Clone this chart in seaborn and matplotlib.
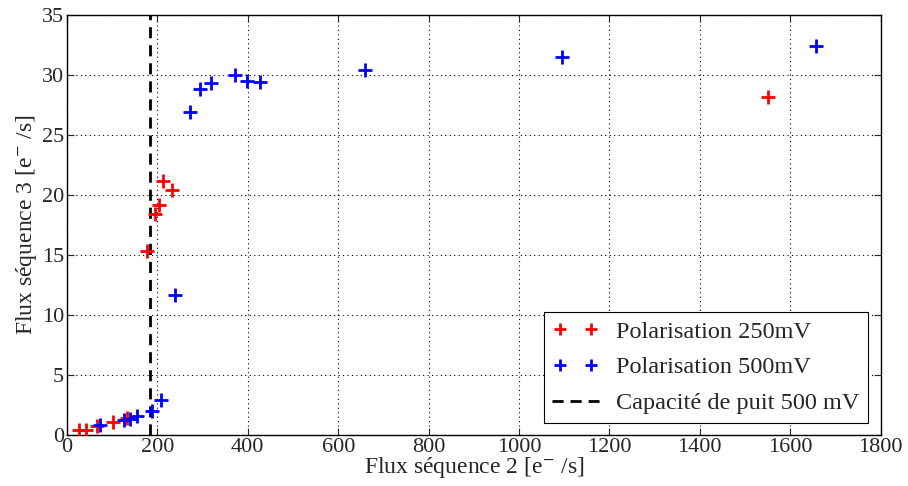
import numpy as np
import pandas as pd
import matplotlib
matplotlib.use("Agg")
import matplotlib.pyplot as plt
import seaborn as sns

# Polarisation 250mV
x_250 = [26, 42, 67, 102, 132, 176, 195, 204, 213, 232, 1552]
y_250 = [0.42, 0.42, 0.72, 1.1, 1.42, 15.35, 18.4, 19.2, 21.2, 20.45, 28.2]

# Polarisation 500mV
x_500 = [73, 125, 139, 154, 188, 209, 239, 272, 295, 318, 371, 398, 426, 659, 1096, 1658]
y_500 = [0.85, 1.28, 1.35, 1.55, 2.02, 2.88, 11.67, 26.9, 28.85, 29.3, 29.97, 29.5, 29.45, 30.4, 31.5, 32.4]

well_capacity = 184

x_ticks = list(range(0, 1801, 200))
y_ticks = list(range(0, 36, 5))

sns.set_theme(style="ticks")
plt.rcParams['font.family'] = ['Liberation Serif', 'DejaVu Serif']
plt.rcParams['mathtext.fontset'] = 'stix'

df_250 = pd.DataFrame({"x": x_250, "y": y_250})
df_500 = pd.DataFrame({"x": x_500, "y": y_500})

fig = plt.figure(figsize=(9.08, 4.86), dpi=100)
ax = fig.add_axes([0.0738, 0.105, 0.896, 0.864])

sns.scatterplot(data=df_250, x="x", y="y", marker="+", color="red", s=110,
                linewidth=2, label="Polarisation 250mV", ax=ax, zorder=3)
sns.scatterplot(data=df_500, x="x", y="y", marker="+", color="blue", s=110,
                linewidth=2, label="Polarisation 500mV", ax=ax, zorder=3)
ax.axvline(well_capacity, color="black", linestyle=(0, (4, 2.5)), linewidth=2,
           label="Capacité de puit 500 mV", zorder=2)

ax.set_xlim(0, 1800)
ax.set_ylim(0, 35)
ax.set_xticks(x_ticks)
ax.set_yticks(y_ticks)
ax.grid(True, color="black", linestyle=(0, (1, 3)), linewidth=0.8)
ax.tick_params(direction="in", top=True, right=True, labelsize=16, length=5,
               width=0.8, pad=2)
for sp in ax.spines.values():
    sp.set_color("black")
    sp.set_linewidth(1.0)

ax.set_xlabel("Flux séquence 2 [e$^{-}$ /s]", fontsize=17, labelpad=-1)
ax.set_ylabel("Flux séquence 3 [e$^{-}$ /s]", fontsize=17, labelpad=2)

leg = ax.legend(loc="lower right", scatterpoints=2, scatteryoffsets=[0.5],
                fontsize=17.5, frameon=True,
                fancybox=False, edgecolor="black", framealpha=1,
                borderpad=0.35, handlelength=1.9, handletextpad=0.7,
                labelspacing=0.57, borderaxespad=0,
                bbox_to_anchor=(0.984, 0.029))
leg.get_frame().set_linewidth(0.8)
for h in leg.legend_handles[:2]:
    h.set_sizes([70])

plt.savefig("out.png", dpi=100)
